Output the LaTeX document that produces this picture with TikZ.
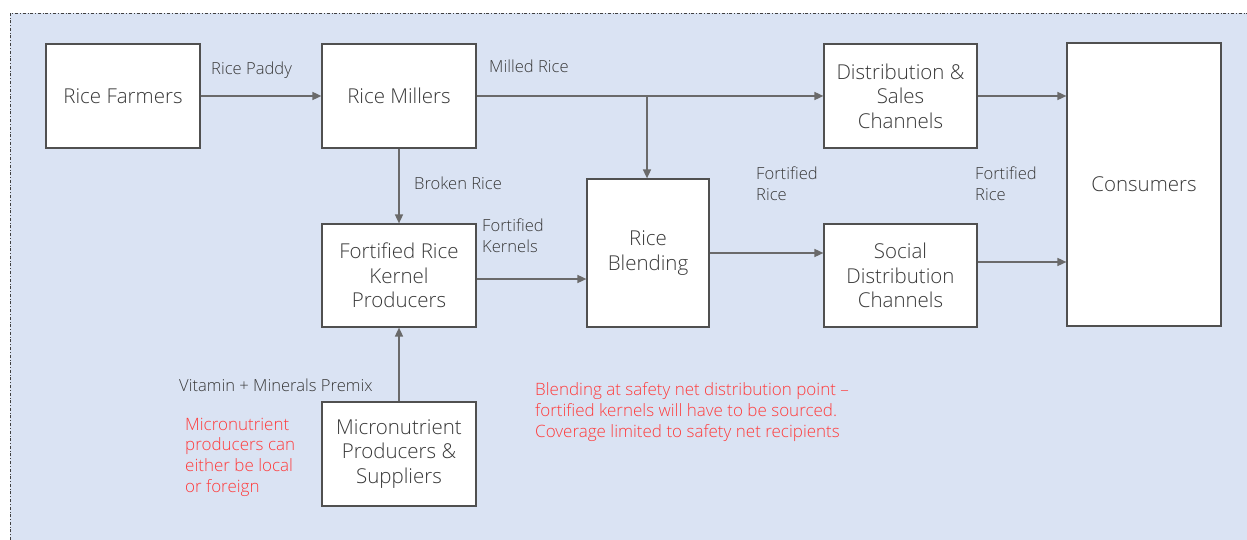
\documentclass[tikz,border=0pt]{standalone}
\usepackage{fontspec}
\setmainfont{Open Sans Light}
\usetikzlibrary{arrows.meta}
\definecolor{bgblue}{HTML}{DAE3F3}
\definecolor{boxline}{HTML}{505050}
\definecolor{txt}{HTML}{383838}
\definecolor{arrgray}{HTML}{6A6A6A}
\definecolor{notered}{HTML}{FF3A3A}
\tikzset{
  box/.style={draw=boxline, line width=1.2pt, fill=white, align=center, inner sep=2pt,
    text=txt, font=\fontsize{20.5}{24.5}\selectfont},
  lbl/.style={anchor=west, align=left, inner sep=0pt, text=txt, font=\fontsize{16.6}{21}\selectfont},
  note/.style={anchor=west, align=left, inner sep=0pt, text=notered, font=\fontsize{17}{20.6}\selectfont},
  arr/.style={draw=arrgray, line width=1.6pt, -{Triangle[length=9pt,width=8pt]}},
  plain/.style={draw=arrgray, line width=1.6pt}
}
\begin{document}
\begin{tikzpicture}[x=1pt,y=-1pt]
\useasboundingbox (0,0) rectangle (1247,540);
\fill[bgblue] (10,13) rectangle (1247,540);
\draw[black!75, line width=0.6pt, dash dot] (10,540) -- (10,13) -- (1247,13);

\node[box, minimum width=154pt, minimum height=104pt] (farmers) at (123,96) {Rice Farmers};
\node[box, minimum width=154pt, minimum height=104pt] (millers) at (399,96) {Rice Millers};
\node[box, minimum width=153pt, minimum height=104pt] (dist) at (900.5,96) {Distribution \&\\Sales\\Channels};
\node[box, minimum width=154pt, minimum height=283pt] (cons) at (1144,184.5) {Consumers};
\node[box, minimum width=153pt, minimum height=103pt] (social) at (900.5,275.5) {Social\\Distribution\\Channels};
\node[box, minimum width=122pt, minimum height=148pt] (blend) at (648,253) {Rice\\Blending};
\node[box, minimum width=154pt, minimum height=103pt] (kernel) at (399,275.5) {Fortified Rice\\Kernel\\Producers};
\node[box, minimum width=154pt, minimum height=104pt] (micro) at (399,454) {Micronutrient\\Producers \&\\Suppliers};

\coordinate (branch) at (647,96);
\draw[arr] (farmers.east) -- (millers.west);
\draw[arr] (millers.east) -- (dist.west);
\draw[arr] (branch) -- (branch |- blend.north);
\draw[arr] (millers.south) -- (kernel.north);
\draw[arr] (micro.north) -- (kernel.south);
\draw[arr] ([yshift=-3.5pt]kernel.east) -- ([yshift=-3.5pt]kernel.east -| blend.west);
\draw[arr] (blend.east) -- (blend.east -| social.west);
\draw[arr] (dist.east) -- (dist.east -| cons.west);
\draw[arr] ([yshift=13.5pt]social.east) -- ([yshift=13.5pt]social.east -| cons.west);

\node[lbl] (l1) at (211,70) {Rice Paddy};
\node[lbl] (l2) at (489,66) {Milled Rice};
\node[lbl] (l3) at (414,183) {Broken Rice};
\node[lbl] (l4) at (482,236) {Fortified\\Kernels};
\node[lbl] (l5) at (756,183.5) {Fortified\\Rice};
\node[lbl] (l6) at (975,183.5) {Fortified\\Rice};
\node[lbl] (l7) at (179,385) {Vitamin + Minerals Premix};
\node[note] (n1) at (185,457) {Micronutrient\\producers can\\either be local\\or foreign};
\node[note] (n2) at (535,412) {Blending at safety net distribution point –\\fortified kernels will have to be sourced.\\Coverage limited to safety net recipients};
\end{tikzpicture}
\end{document}
